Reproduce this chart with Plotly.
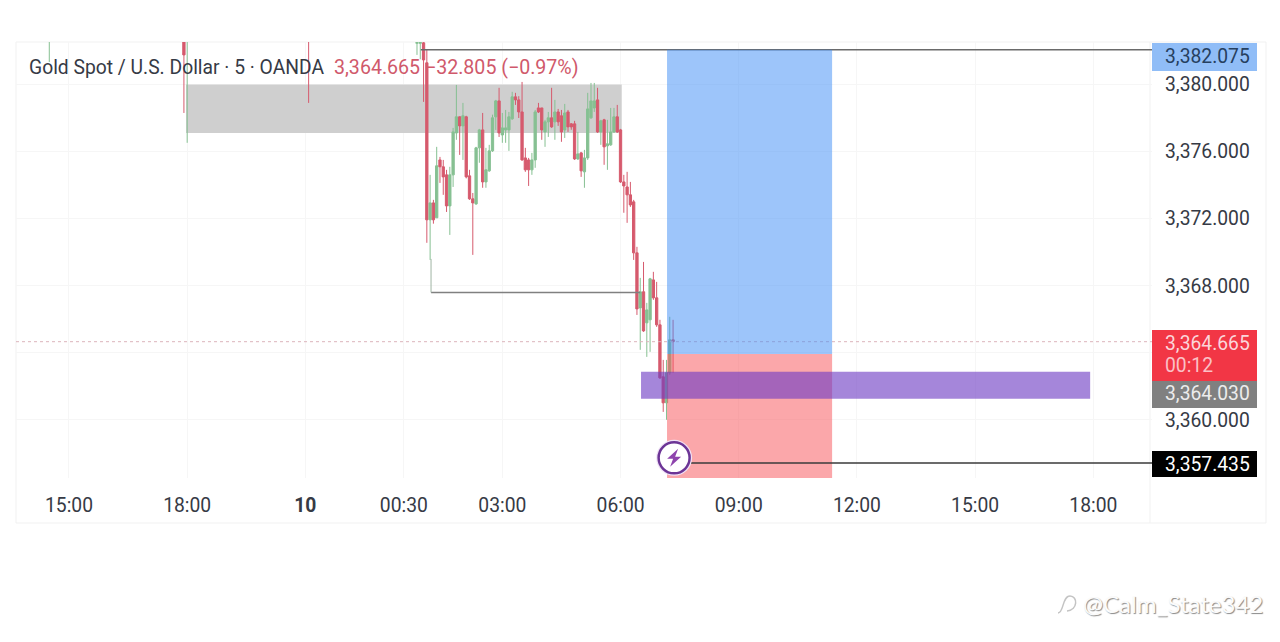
import plotly.graph_objects as go

# x is hours on the chart's compressed time scale (15:00 = 0, weekend gap removed)
tick_hours = [0, 3, 6, 8.5, 11, 14, 17, 20, 23, 26]
tick_labels = ["15:00", "18:00", "<b>10</b>", "00:30", "03:00", "06:00", "09:00", "12:00", "15:00", "18:00"]
price_ticks = [3380, 3376, 3372, 3368, 3360]

# a few stray bars before the main session, bodies above the visible range
old_hours = [-0.5, 2.917, 3.0, 6.083]
old_open = [3382.9, 3383.0, 3383.0, 3383.2]
old_high = [3383.5, 3383.5, 3383.5, 3383.5]
old_low = [3381.34, 3378.30, 3376.52, 3378.90]
old_close = [3383.0, 3381.76, 3383.2, 3383.0]

# 5 minute bars, written without the leading 33 hundreds
BASE = 3300
bar_open = [82.45, 82.45, 82.48, 81.29, 71.93, 72.94, 72.05, 75.50, 75.09, 74.61,
            72.76, 74.61, 77.11, 78.07, 77.53, 78.07, 74.55, 73.18, 72.88, 76.22,
            77.29, 74.19, 74.85, 76.04, 78.07, 79.02, 76.99, 77.29, 77.29, 77.95,
            79.26, 79.08, 78.36, 75.62, 75.50, 74.91, 75.50, 78.60, 78.60, 77.17,
            77.77, 78.01, 77.77, 78.36, 78.13, 77.29, 78.36, 77.65, 77.65, 75.56,
            75.92, 74.79, 75.62, 78.01, 78.60, 79.08, 77.17, 77.89, 76.34, 76.40,
            77.17, 78.07, 77.29, 74.19, 73.89, 73.42, 73.00, 69.96, 66.68, 67.64,
            65.79, 65.97, 68.35, 67.28, 65.67, 62.57, 61.02, 62.81, 64.78]
bar_high = [83.00, 83.00, 83.00, 82.06, 74.61, 73.12, 76.28, 75.68, 75.50, 74.91,
            75.09, 77.41, 79.97, 78.10, 78.90, 78.13, 74.91, 73.53, 76.28, 77.35,
            78.30, 76.22, 76.40, 78.20, 79.08, 79.80, 78.30, 78.48, 78.36, 79.56,
            79.50, 79.30, 80.15, 76.22, 75.62, 75.92, 78.48, 78.90, 78.60, 77.89,
            78.36, 79.80, 79.08, 78.54, 78.48, 78.84, 78.48, 77.70, 77.83, 77.17,
            75.98, 76.10, 79.50, 80.09, 80.09, 79.80, 77.89, 77.95, 77.89, 78.60,
            78.60, 78.78, 77.35, 74.61, 74.79, 74.19, 73.12, 70.32, 68.47, 69.42,
            66.98, 68.47, 68.83, 68.23, 65.97, 63.58, 63.58, 66.15, 65.97]
bar_low = [81.76, 81.50, 78.96, 70.56, 69.54, 71.70, 72.05, 74.13, 73.42, 72.40,
           71.03, 73.89, 76.70, 75.80, 75.50, 74.40, 73.12, 69.84, 72.82, 75.33,
           73.84, 73.84, 74.79, 75.98, 77.29, 76.87, 76.52, 76.52, 76.04, 77.89,
           78.78, 78.00, 75.45, 74.79, 73.95, 74.61, 75.03, 78.30, 76.70, 76.28,
           76.87, 77.41, 76.70, 77.53, 76.58, 76.81, 77.17, 77.30, 75.50, 75.50,
           74.49, 73.84, 75.50, 77.95, 78.36, 77.11, 76.40, 75.21, 74.91, 76.34,
           77.11, 77.11, 74.13, 72.35, 71.75, 72.70, 69.54, 66.26, 64.18, 65.25,
           63.76, 64.06, 67.16, 65.55, 62.45, 60.48, 60.01, 62.69, 62.81]
bar_close = [82.50, 82.50, 81.46, 71.93, 72.94, 71.93, 75.15, 75.09, 74.49, 72.76,
             74.61, 77.17, 78.07, 77.53, 78.13, 74.49, 73.18, 72.94, 76.22, 77.29,
             74.19, 74.91, 76.04, 78.01, 79.02, 77.11, 77.41, 77.41, 78.07, 79.26,
             79.08, 78.36, 75.50, 74.91, 74.91, 75.50, 78.36, 78.36, 77.29, 77.77,
             78.01, 77.47, 78.36, 77.77, 77.17, 78.30, 77.47, 77.47, 75.56, 75.86,
             74.85, 75.62, 78.54, 79.02, 79.02, 77.17, 77.83, 76.28, 76.46, 77.17,
             78.07, 77.17, 74.19, 73.95, 73.42, 72.82, 69.96, 66.62, 67.64, 65.31,
             66.56, 68.41, 67.28, 65.67, 62.51, 61.02, 62.81, 64.78, 64.665]
FIRST_BAR_HOUR = 8.8333

last_price = 3364.665
sl_price = 3382.075
tp_price = 3357.435
entry_price = 3363.93
bos_price = 3367.60
zone_top, zone_bottom = 3380.0, 3377.1
fvg_top, fvg_bottom = 3362.87, 3361.26

X_MIN, X_MAX = -1.345, 27.49
Y_MIN, Y_MAX = 3356.54, 3382.53
L, R, T, B = 16, 1152, 42, 478
FONT = "Roboto"
TEXT_SIZE = 19.3
RED = "#d65a6d"
GREEN = "#86c092"


def px_x(v):
    return (v - L) / (R - L)


def px_y(v):
    return (B - v) / (B - T)


bar_hours = [FIRST_BAR_HOUR + i / 12 for i in range(len(bar_open))]
x = old_hours + bar_hours
opens = old_open + [BASE + v for v in bar_open]
highs = old_high + [BASE + v for v in bar_high]
lows = old_low + [BASE + v for v in bar_low]
closes = old_close + [BASE + v for v in bar_close]

fig = go.Figure()
fig.add_trace(go.Candlestick(
    x=x, open=opens, high=highs, low=lows, close=closes,
    increasing=dict(line=dict(color=GREEN, width=1), fillcolor=GREEN),
    decreasing=dict(line=dict(color=RED, width=1), fillcolor=RED),
    whiskerwidth=0, showlegend=False, hoverinfo="skip",
))

# drawing tools on the pane
fig.add_shape(type="rect", layer="between", x0=2.97, x1=14.03, y0=zone_bottom, y1=zone_top,
              fillcolor="#cfcfcf", line_width=0)
fig.add_shape(type="line", x0=X_MIN, x1=X_MAX, y0=last_price, y1=last_price,
              line=dict(color="#dcb4bc", width=1, dash="dot"))
fig.add_shape(type="line", x0=8.93, x1=X_MAX, y0=sl_price, y1=sl_price, line=dict(color="#6a6a6a", width=1.5))
fig.add_shape(type="line", x0=9.19, x1=14.5, y0=bos_price, y1=bos_price, line=dict(color="#808080", width=1.5))
fig.add_shape(type="line", x0=9.19, x1=9.19, y0=bos_price, y1=3369.6, line=dict(color="#9fb5a3", width=1))
fig.add_shape(type="rect", x0=15.18, x1=19.37, y0=entry_price, y1=sl_price,
              fillcolor="rgba(60,140,245,0.5)", line_width=0)
fig.add_shape(type="rect", x0=15.18, x1=19.37, y0=Y_MIN, y1=entry_price,
              fillcolor="rgba(247,80,85,0.5)", line_width=0)
fig.add_shape(type="rect", x0=14.52, x1=25.92, y0=fvg_bottom, y1=fvg_top,
              fillcolor="rgba(109,60,195,0.62)", line_width=0)
fig.add_shape(type="line", x0=15.36, x1=X_MAX, y0=tp_price, y1=tp_price, line=dict(color="#3a3a3a", width=1.5))

# lightning badge
badge_x, badge_y = 15.36, 3357.74
fig.add_shape(type="circle", xsizemode="pixel", ysizemode="pixel", xanchor=badge_x, yanchor=badge_y,
              x0=-18, x1=18, y0=-18, y1=18, fillcolor="#f0e2f6", line_width=0)
fig.add_shape(type="circle", xsizemode="pixel", ysizemode="pixel", xanchor=badge_x, yanchor=badge_y,
              x0=-15.5, x1=15.5, y0=-15.5, y1=15.5, fillcolor="white", line=dict(color="#6c3596", width=2.5))
fig.add_shape(type="path", xsizemode="pixel", ysizemode="pixel", xanchor=badge_x, yanchor=badge_y,
              path="M 4 9 L -7 -1 L -1 -1 L -4 -9 L 7 1 L 1 1 Z", fillcolor="#8e44ad", line_width=0)

# frame of the chart widget
for x0, y0, x1, y1 in [(16, 42, 1266, 42), (16, 42, 16, 523), (16, 523, 1266, 523),
                       (1266, 42, 1266, 523), (1150, 42, 1150, 523)]:
    fig.add_shape(type="line", xref="paper", yref="paper", x0=px_x(x0), x1=px_x(x1), y0=px_y(y0), y1=px_y(y1),
                  line=dict(color="#f1f1f1", width=1), layer="below")

# price scale labels: top px, bottom px, fill, [(text, centre px, colour)]
price_tags = [
    (43, 71, "#90bdf7", [("3,382.075", 56, "#26405f")]),
    (330, 381, "#f23645", [("3,364.665", 343, "#fbd5da"), ("00:12", 365, "#fbc0c6")]),
    (381, 408, "#808080", [("3,364.030", 393, "#ececec")]),
    (451, 477, "#000000", [("3,357.435", 464, "#ffffff")]),
]
for top, bottom, fill, texts in price_tags:
    fig.add_shape(type="rect", xref="paper", yref="paper", x0=px_x(1152), x1=px_x(1257),
                  y0=px_y(bottom), y1=px_y(top), fillcolor=fill, line_width=0)
    for text, centre, colour in texts:
        fig.add_annotation(xref="paper", yref="paper", x=px_x(1164), y=px_y(centre), text=text, showarrow=False,
                           xanchor="left", yanchor="middle", borderpad=0,
                           font=dict(family=FONT, size=TEXT_SIZE, color=colour))

fig.add_annotation(xref="paper", yref="paper", x=px_x(28), y=px_y(68), text="Gold Spot / U.S. Dollar · 5 · OANDA",
                   showarrow=False, xanchor="left", yanchor="middle", borderpad=0,
                   font=dict(family=FONT, size=TEXT_SIZE, color="#363a45"))
fig.add_annotation(xref="paper", yref="paper", x=px_x(333), y=px_y(68), text="3,364.665 −32.805 (−0.97%)",
                   showarrow=False, xanchor="left", yanchor="middle", borderpad=0,
                   font=dict(family=FONT, size=19.6, color="#d0596b"))

# embossed watermark
fig.add_annotation(xref="paper", yref="paper", x=px_x(1082), y=px_y(603), text="@Calm_State342",
                   showarrow=False, xanchor="left", yanchor="middle", borderpad=0,
                   font=dict(family="Lato", size=24, color="#fbfbfb", shadow="1px 1px 1px #8a8a8a"))
fig.add_shape(type="path", xref="paper", yref="paper", line=dict(color="#c4c4c4", width=1.5),
              path=f"M {px_x(1058)} {px_y(613)} C {px_x(1064)} {px_y(613)} {px_x(1062)} {px_y(596)} {px_x(1070)} {px_y(596)} "
                   f"C {px_x(1078)} {px_y(596)} {px_x(1078)} {px_y(610)} {px_x(1067)} {px_y(611)}")

fig.update_layout(
    width=1280, height=642, margin=dict(l=L, r=1280 - R, t=T, b=642 - B, pad=0),
    paper_bgcolor="white", plot_bgcolor="white", showlegend=False, boxgap=0,
    font=dict(family=FONT, color="#363a45"),
    xaxis=dict(type="linear", range=[X_MIN, X_MAX], tickvals=tick_hours, ticktext=tick_labels, showgrid=True,
               gridcolor="#f6f6f6", zeroline=False, showline=False, ticks="", rangeslider=dict(visible=False),
               ticklabelstandoff=14, tickfont=dict(family=FONT, size=TEXT_SIZE, color="#363a45")),
    yaxis=dict(side="right", range=[Y_MIN, Y_MAX], tickvals=price_ticks, tickformat=",.3f", showgrid=True,
               gridcolor="#f6f6f6", zeroline=False, showline=False, ticks="",
               minor=dict(tickvals=[3364], showgrid=True, gridcolor="#f6f6f6"),
               ticklabelstandoff=12, tickfont=dict(family=FONT, size=TEXT_SIZE, color="#363a45")),
)

# the page's default body margin would push everything 8px right and down
fig.write_html("out.html", config=dict(displayModeBar=False), post_script="document.body.style.margin='0';")
